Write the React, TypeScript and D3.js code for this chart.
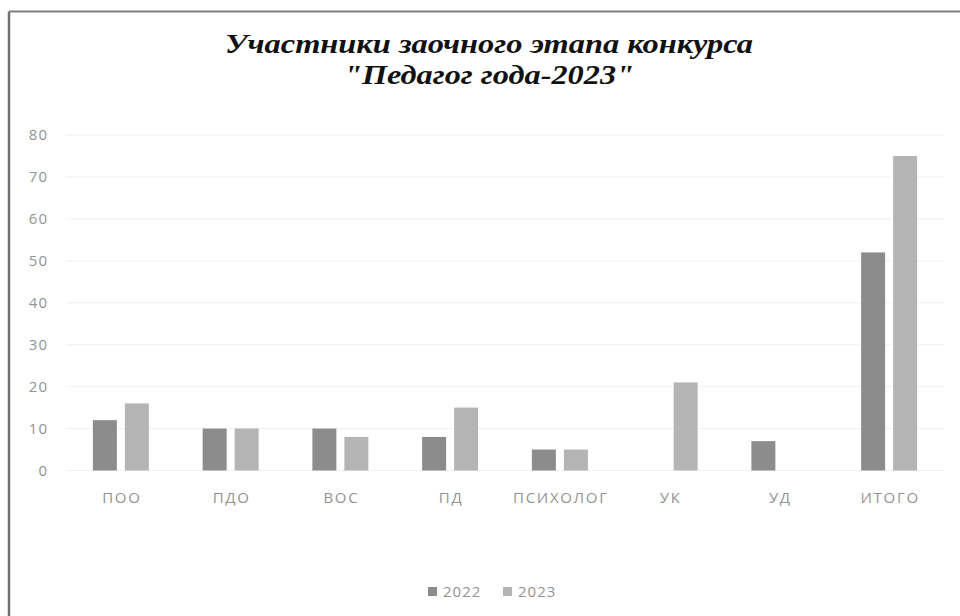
import React from "react";
import * as d3 from "d3";

const categories = ["ПОО", "ПДО", "ВОС", "ПД", "ПСИХОЛОГ", "УК", "УД", "ИТОГО"];
const values2022 = [12, 10, 10, 8, 5, 0, 7, 52];
const values2023 = [16, 10, 8, 15, 5, 21, 0, 75];
const seriesNames = ["2022", "2023"];
const seriesColors = ["#8c8c8c", "#b4b4b4"];
const yTicks = [0, 10, 20, 30, 40, 50, 60, 70, 80];
const titleLines = ["Участники заочного этапа конкурса", "\"Педагог года-2023\""];

const W = 960;
const H = 616;
const plot = { left: 66, right: 944, top: 135, bottom: 470.5 };
const titleWidths = [528, 290];

export default function App() {
  const x = d3.scaleBand<string>().domain(categories).range([plot.left, plot.right]);
  const x1 = d3.scaleBand<string>().domain(seriesNames).range([0, 56]).paddingInner(0.25);
  const y = d3.scaleLinear().domain([0, 80]).range([plot.bottom, plot.top]);
  const series = [values2022, values2023];
  const font = "'Open Sans', 'Liberation Sans', sans-serif";

  return (
    <svg
      width={W}
      height={H}
      style={{ position: "absolute", left: 0, top: 0, background: "#fff" }}
    >
      <line x1={9} y1={11.5} x2={W} y2={11.5} stroke="#808080" strokeWidth={2} />
      <line x1={9} y1={11.5} x2={9} y2={H} stroke="#707070" strokeWidth={2.5} />
      {titleLines.map((t, i) => (
        <text
          key={i}
          x={489}
          y={53 + i * 31}
          textAnchor="middle"
          textLength={titleWidths[i]}
          lengthAdjust="spacingAndGlyphs"
          fontFamily="'Liberation Serif', 'Times New Roman', serif"
          fontStyle="italic"
          fontWeight="bold"
          fontSize={27}
          fill="#111"
        >
          {t}
        </text>
      ))}
      {yTicks.map((t) => (
        <g key={t}>
          <line
            x1={plot.left}
            x2={plot.right}
            y1={y(t)}
            y2={y(t)}
            stroke="#f0f0f0"
            strokeWidth={1}
          />
          <text
            x={48}
            y={y(t)}
            dy="0.36em"
            textAnchor="end"
            fontFamily={font}
            fontSize={15}
            letterSpacing={1}
            fill="#939393"
          >
            {t}
          </text>
        </g>
      ))}
      {categories.map((c, ci) => {
        const cx = (x(c) as number) + x.bandwidth() / 2;
        return (
          <g key={c}>
            {series.map((vals, si) => {
              const v = vals[ci];
              if (!v) return null;
              const bx = cx - 28 + (x1(seriesNames[si]) as number);
              return (
                <rect
                  key={si}
                  x={bx}
                  y={y(v)}
                  width={x1.bandwidth()}
                  height={y(0) - y(v)}
                  fill={seriesColors[si]}
                />
              );
            })}
            <text
              x={cx + 1}
              y={503}
              textAnchor="middle"
              fontFamily={font}
              fontSize={15}
              letterSpacing={1.7}
              fill="#939393"
            >
              {c}
            </text>
          </g>
        );
      })}
      {seriesNames.map((s, i) => {
        const lx = 428 + i * 75;
        return (
          <g key={s}>
            <rect x={lx} y={587} width={9} height={9} fill={seriesColors[i]} />
            <text
              x={lx + 15}
              y={592}
              dy="0.36em"
              fontFamily={font}
              fontSize={15}
              letterSpacing={1}
              fill="#939393"
            >
              {s}
            </text>
          </g>
        );
      })}
    </svg>
  );
}
